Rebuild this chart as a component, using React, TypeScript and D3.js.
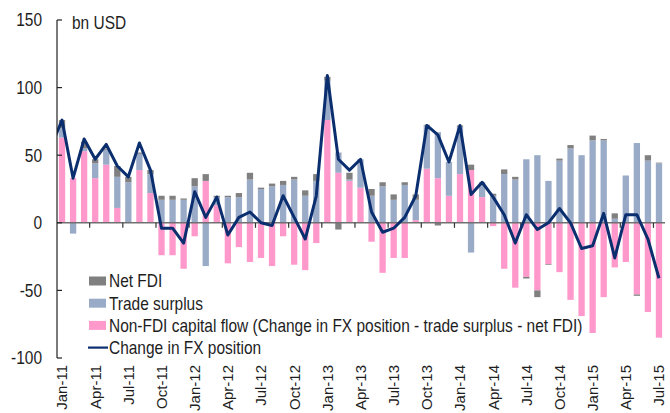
import React from 'react';
import * as d3 from 'd3';

const months = [
  'Jan-11', 'Feb-11', 'Mar-11', 'Apr-11', 'May-11', 'Jun-11', 'Jul-11', 'Aug-11', 'Sep-11', 'Oct-11', 'Nov-11', 'Dec-11',
  'Jan-12', 'Feb-12', 'Mar-12', 'Apr-12', 'May-12', 'Jun-12', 'Jul-12', 'Aug-12', 'Sep-12', 'Oct-12', 'Nov-12', 'Dec-12',
  'Jan-13', 'Feb-13', 'Mar-13', 'Apr-13', 'May-13', 'Jun-13', 'Jul-13', 'Aug-13', 'Sep-13', 'Oct-13', 'Nov-13', 'Dec-13',
  'Jan-14', 'Feb-14', 'Mar-14', 'Apr-14', 'May-14', 'Jun-14', 'Jul-14', 'Aug-14', 'Sep-14', 'Oct-14', 'Nov-14', 'Dec-14',
  'Jan-15', 'Feb-15', 'Mar-15', 'Apr-15', 'May-15', 'Jun-15', 'Jul-15',
];

const nonFdi = [
  63, 33, 53, 33, 43, 11, 0, 39, 22, -24, -24, -34,
  -10, 31, 13, -30, -18, -29, -26, -32, -10, -31, -35, -15,
  76, 37, 31, 26, -14, -37, -26, -26, 2, 40, 33, 20,
  36, 39, 19, -2.5, -34, -48, -40, -50, -30.6, -36.5, -57, -69,
  -81.5, -55, -33, -29, -53, -66, -85,
];

const tradeSurplus = [
  7, -8, 2, 11, 11, 23, 30, 12, 14, 17, 17, 17,
  27, -32, 6, 19, 19, 32, 25, 27, 28, 32, 20, 31,
  29, 15, 1, 21, 20, 27, 17, 28, 15, 32, 34, 25,
  35, -22, 11, 20, 36, 32, 47, 50, 31, 46, 55, 50,
  61, 61, 3, 35, 59, 46, 44,
];

const netFdi = [
  6, 0, 5, 3, 1, 8, 4, 1, 3, 3, 3, 1,
  6, 5, 1, 1, 3, 5, 1, 2, 3, 2, 4, 5,
  3, -5, 5, 0, 5, 3, 4, 2, 4, 0.5, -2, 0,
  1, 4, 0, 1.5, 3.5, 2, -1.2, -5, -0.5, 1.5, 2.5, 0,
  3.5, 1, 4, 0, -1, 4, 0.5,
];

// Dec-10 value first: the line enters the plot from the left edge
const fxChangeMonths = ['Dec-10', ...months];
const fxChange = [
  56,
  76, 33, 62, 47, 58, 42, 34, 59, 39, -4, -4, -15,
  23, 4, 19, -9, 4, 8, 0, -2, 20, 4, -12, 20,
  109, 47, 39, 47, 8, -7, -4, 4, 20, 72, 65, 45,
  72, 21, 30, 19, 6, -15, 6, -5, 0, 10.6, 0, -19,
  -17, 7, -26, 6, 6, -12, -41,
];

const yTicks = [150, 100, 50, 0, -50, -100];

const seriesKeys = ['nonFdi', 'trade', 'fdi'];
const seriesColors: Record<string, string> = { nonFdi: '#ff99cc', trade: '#9aabc8', fdi: '#808080' };
const legendItems = [
  { label: 'Net FDI', key: 'fdi' },
  { label: 'Trade surplus', key: 'trade' },
  { label: 'Non-FDI capital flow (Change in FX position - trade surplus - net FDI)', key: 'nonFdi' },
  { label: 'Change in FX position', key: 'line' },
];

const W = 670;
const H = 413;
const left = 57;
const right = 665;
const top = 20;
const bottom = 358;
const font = '"Liberation Sans", Arial, sans-serif';
const textColor = '#1e1e1e';
const lineColor = '#0b2e6f';
const sx = 0.86; // the source font is slightly condensed

export default function App() {
  const rows = months.map((m, i) => ({ month: m, nonFdi: nonFdi[i], trade: tradeSurplus[i], fdi: netFdi[i] }));

  const x = d3.scaleBand<string>().domain(months).range([left - 0.5, right - 0.5]).paddingInner(0.43).paddingOuter(0.215);
  const step = x.step();
  const y = d3.scaleLinear().domain([-100, 150]).range([bottom, top]);

  const stacked = d3.stack<any>().keys(seriesKeys).offset(d3.stackOffsetDiverging)(rows);

  const xLine = (m: string, i: number) => {
    if (i === 0) return (x(months[0]) as number) + x.bandwidth() / 2 - step;
    return (x(m) as number) + x.bandwidth() / 2;
  };
  const line = d3.line<number>()
    .x((_, i) => xLine(fxChangeMonths[i], i))
    .y(d => y(d));

  const quarterIdx = months.map((_, i) => i).filter(i => i % 3 === 0);

  return (
    <svg width={W} height={H} style={{ position: 'absolute', left: 0, top: 0, background: '#fff' }} fontFamily={font}>
      <defs>
        <clipPath id="plot">
          <rect x={left} y={0} width={right - left + 5} height={H} />
        </clipPath>
      </defs>

      {stacked.map(s => (
        <g key={s.key} fill={seriesColors[s.key]}>
          {s.map((d, i) => {
            const y0 = y(d[0]);
            const y1 = y(d[1]);
            return (
              <rect key={i} x={x(months[i])} width={x.bandwidth()}
                y={Math.min(y0, y1)} height={Math.abs(y0 - y1)} />
            );
          })}
        </g>
      ))}

      {/* zero line with quarterly ticks */}
      <line x1={left} x2={right} y1={y(0)} y2={y(0)} stroke="#707070" strokeWidth={1.5} />
      {quarterIdx.filter(i => i > 0).map(i => (
        <line key={i} x1={left - 0.5 + step * i} x2={left - 0.5 + step * i} y1={y(0)} y2={y(0) + 5} stroke="#333" strokeWidth={1.2} />
      ))}

      <path d={line(fxChange) as string} fill="none" stroke={lineColor} strokeWidth={3} strokeLinejoin="round" clipPath="url(#plot)" />

      {/* y axis */}
      <line x1={left} x2={left} y1={y(150)} y2={y(-100)} stroke="#222" strokeWidth={1.2} />
      {yTicks.map(t => (
        <g key={t}>
          <line x1={left} x2={left + 5} y1={y(t)} y2={y(t)} stroke="#222" strokeWidth={1.2} />
          <text transform={`translate(${left - 15},${y(t)}) scale(${sx},1)`} dy="0.36em" textAnchor="end" fontSize={18} fill={textColor}>{t}</text>
        </g>
      ))}
      <text transform={`translate(72,29) scale(${sx},1)`} fontSize={18} fill={textColor}>bn USD</text>

      {/* x labels */}
      {quarterIdx.map(i => (
        <text key={i} transform={`translate(${(x(months[i]) as number) + x.bandwidth() / 2},365) rotate(-90)`}
          dy="0.36em" textAnchor="end" fontSize={15} fill={textColor}>{months[i]}</text>
      ))}

      {/* legend */}
      {legendItems.map((it, i) => {
        const cy = 281 + i * 22.2;
        return (
          <g key={it.key}>
            {it.key === 'line'
              ? <line x1={88} x2={108} y1={cy} y2={cy} stroke={lineColor} strokeWidth={2.2} />
              : <rect x={89} y={cy - 4.5} width={17} height={9} fill={seriesColors[it.key]} />}
            <text transform={`translate(109,${cy}) scale(${sx},1)`} dy="0.36em" fontSize={18} fill={textColor}>{it.label}</text>
          </g>
        );
      })}
    </svg>
  );
}
